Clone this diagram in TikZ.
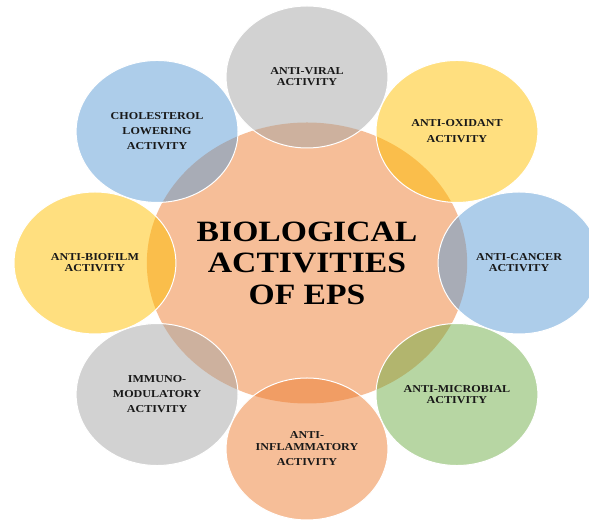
\documentclass[tikz,border=0pt]{standalone}
\usepackage{fontspec}
\setmainfont{Liberation Serif}
\definecolor{main}{RGB}{91,155,213}
\definecolor{second}{RGB}{237,125,49}
\definecolor{third}{RGB}{165,165,165}
\definecolor{fourth}{RGB}{112,173,71}
\definecolor{fifth}{RGB}{255,192,0}
\tikzset{
  % node
	cstcore/.style  ={circle,minimum size=281pt,inner sep=0pt,fill=second,fill opacity=.5,text opacity=1,align=center,font=\fontsize{29.5}{31.5}\selectfont\bfseries}, %中心圆
	cstsat/.style   ={circle,minimum size=142pt,inner sep=0pt,draw=white,line width=1pt,fill opacity=.5,text opacity=1,text=black!90,align=center,font=\fontsize{10.6}{11}\selectfont\bfseries}, %外圈圆
	cstsat1/.style  ={cstsat,fill=main},
	cstsat2/.style  ={cstsat,fill=second},
	cstsat3/.style  ={cstsat,fill=third},
	cstsat4/.style  ={cstsat,fill=fourth},
	cstsat5/.style  ={cstsat,fill=fifth}
}

\begin{document}
\begin{tikzpicture}
	\useasboundingbox (0,0) rectangle (589pt,521pt);
	\begin{scope}[shift={(307pt,258pt)},xscale=1.14,transform shape]
		\def\r{186pt}
		\node[cstcore] (core) at (0,0) {BIOLOGICAL\\ACTIVITIES\\OF EPS};
		\node[cstsat3] (viral) at (90:\r) {ANTI-VIRAL\\ACTIVITY};
		\node[cstsat5] (oxidant) at (45:\r) {ANTI-OXIDANT\\[5pt]ACTIVITY};
		\node[cstsat1] (cancer) at (0:\r) {ANTI-CANCER\\ACTIVITY};
		\node[cstsat4] (microbial) at (-45:\r) {ANTI-MICROBIAL\\ACTIVITY};
		\node[cstsat2] (inflammatory) at (-90:\r) {ANTI-\\[1pt]INFLAMMATORY\\[4pt]ACTIVITY};
		\node[cstsat3] (immuno) at (-135:\r) {IMMUNO-\\[4pt]MODULATORY\\[4pt]ACTIVITY};
		\node[cstsat5] (biofilm) at (180:\r) {ANTI-BIOFILM\\ACTIVITY};
		\node[cstsat1] (cholesterol) at (135:\r) {CHOLESTEROL\\[4pt]LOWERING\\[4pt]ACTIVITY};
	\end{scope}
\end{tikzpicture}
\end{document}
